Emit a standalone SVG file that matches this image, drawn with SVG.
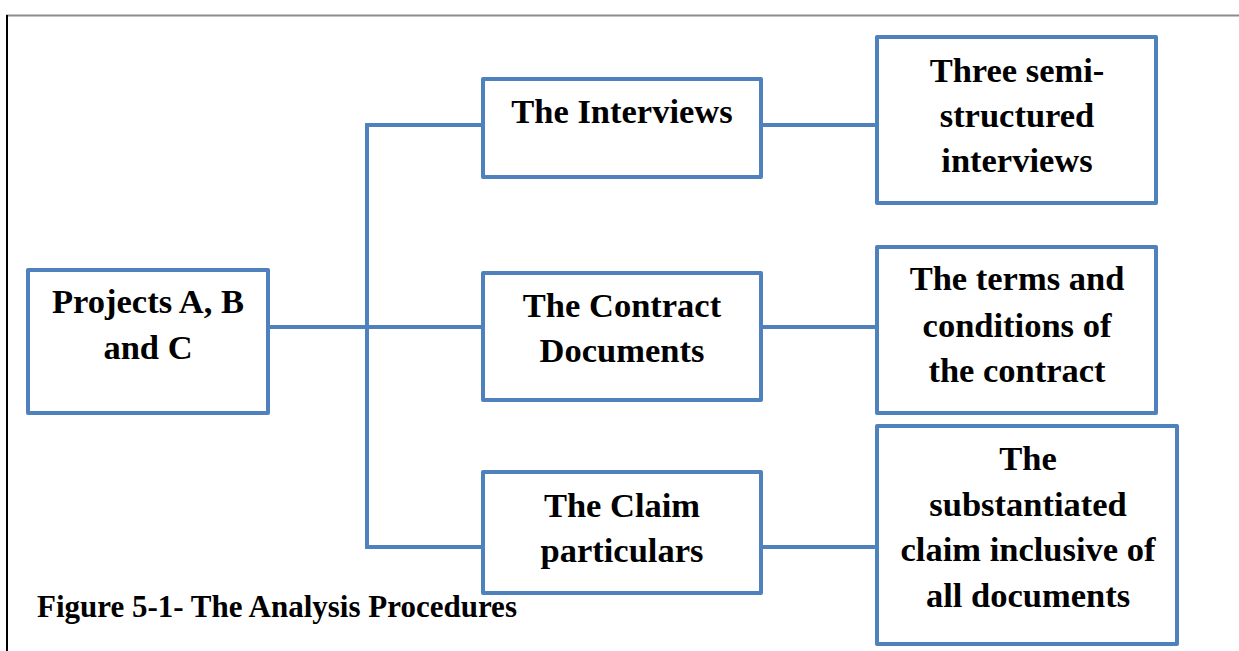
<svg xmlns="http://www.w3.org/2000/svg" width="1239" height="651" viewBox="0 0 1239 651">
  <style>
    .box { fill: #ffffff; stroke: #4f81bd; stroke-width: 4; stroke-linejoin: round; }
    .link { fill: none; stroke: #4f81bd; stroke-width: 4; }
    .label { font-family: "Liberation Serif", "Times New Roman", serif; font-weight: bold; font-size: 34.5px; fill: #000000; text-anchor: middle; }
    .caption { font-family: "Liberation Serif", "Times New Roman", serif; font-weight: bold; font-size: 31px; fill: #000000; }
  </style>

  <rect x="0" y="0" width="1239" height="651" fill="#ffffff"/>

  <!-- page frame -->
  <g id="frame">
    <line x1="6" y1="15.5" x2="1239" y2="15.5" stroke="#8c8c8c" stroke-width="2"/>
    <line x1="7" y1="15" x2="7" y2="651" stroke="#000000" stroke-width="2"/>
  </g>

  <!-- connectors -->
  <g id="connectors">
    <line class="link" x1="268" y1="327" x2="483" y2="327"/>
    <polyline class="link" points="483,125 367,125 367,547 483,547"/>
    <line class="link" x1="761" y1="125" x2="877" y2="125"/>
    <line class="link" x1="761" y1="327" x2="877" y2="327"/>
    <line class="link" x1="761" y1="547" x2="877" y2="547"/>
  </g>

  <g id="projects">
    <rect class="box" x="28" y="270" width="240" height="143"/>
    <text class="label" x="148" y="313">Projects A, B</text>
    <text class="label" x="148" y="359">and C</text>
  </g>

  <g id="interviews">
    <rect class="box" x="483" y="79" width="278" height="98"/>
    <text class="label" x="622" y="123">The Interviews</text>
  </g>

  <g id="contract">
    <rect class="box" x="483" y="273" width="278" height="127"/>
    <text class="label" x="622" y="317">The Contract</text>
    <text class="label" x="622" y="362">Documents</text>
  </g>

  <g id="claim">
    <rect class="box" x="483" y="472" width="278" height="121"/>
    <text class="label" x="622" y="517">The Claim</text>
    <text class="label" x="622" y="562">particulars</text>
  </g>

  <g id="semi-structured">
    <rect class="box" x="877" y="37" width="279" height="166"/>
    <text class="label" x="1017" y="82">Three semi-</text>
    <text class="label" x="1017" y="127">structured</text>
    <text class="label" x="1017" y="172">interviews</text>
  </g>

  <g id="terms">
    <rect class="box" x="877" y="247" width="279" height="166"/>
    <text class="label" x="1017" y="290">The terms and</text>
    <text class="label" x="1017" y="337">conditions of</text>
    <text class="label" x="1017" y="382">the contract</text>
  </g>

  <g id="substantiated">
    <rect class="box" x="877" y="426" width="300" height="218"/>
    <text class="label" x="1028" y="470">The</text>
    <text class="label" x="1028" y="516">substantiated</text>
    <text class="label" x="1028" y="561">claim inclusive of</text>
    <text class="label" x="1028" y="607">all documents</text>
  </g>

  <text class="caption" x="37" y="617">Figure 5-1- The Analysis Procedures</text>
</svg>
